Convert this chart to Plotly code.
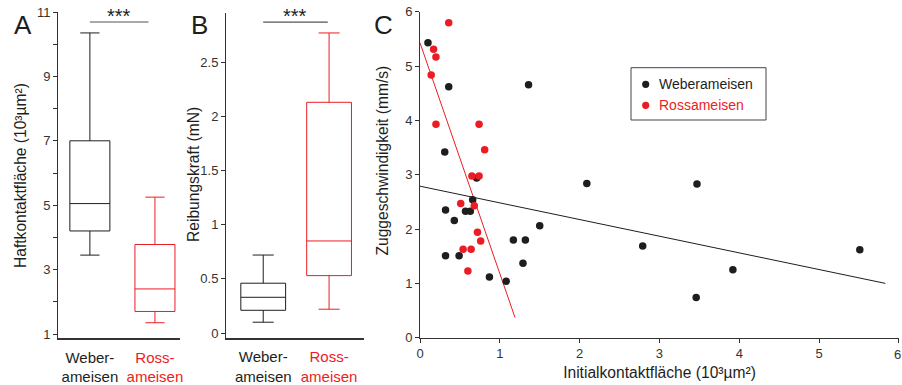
import plotly.graph_objects as go

# ---- data -------------------------------------------------------------
species = ["Weberameisen", "Rossameisen"]
species_ticklabels = ["Weber-<br>ameisen", "Ross-<br>ameisen"]

# A: adhesive contact area (10^3 µm^2), box statistics
area_low = [3.45, 1.35]
area_q1 = [4.2, 1.7]
area_median = [5.05, 2.4]
area_q3 = [7.0, 3.78]
area_high = [10.35, 5.25]

# B: friction force (mN), box statistics
force_low = [0.10, 0.22]
force_q1 = [0.21, 0.53]
force_median = [0.33, 0.85]
force_q3 = [0.46, 2.13]
force_high = [0.72, 2.77]

# C: initial contact area vs. pulling speed
weber_area = [0.10, 0.36, 1.36, 0.31, 0.71, 2.09, 0.66, 0.32, 0.57, 0.63, 0.43,
              1.50, 1.17, 1.32, 0.32, 0.49, 1.29, 0.87, 1.08, 2.79, 3.47, 5.51,
              3.92, 3.46]
weber_speed = [5.43, 4.62, 4.66, 3.42, 2.94, 2.84, 2.54, 2.35, 2.33, 2.33, 2.16,
               2.06, 1.80, 1.80, 1.51, 1.51, 1.37, 1.12, 1.04, 1.69, 2.83, 1.62,
               1.25, 0.74]
ross_area = [0.36, 0.17, 0.20, 0.14, 0.20, 0.74, 0.81, 0.65, 0.74, 0.51, 0.68,
             0.72, 0.76, 0.54, 0.64, 0.60]
ross_speed = [5.80, 5.31, 5.17, 4.84, 3.93, 3.93, 3.46, 2.98, 2.98, 2.47, 2.43,
              1.94, 1.78, 1.63, 1.63, 1.23]

# linear fits: intercept, slope, x-extent
weber_fit = (2.79, -0.307, 5.83)
ross_fit = (5.43, -4.25, 1.19)

# x ticks of panel C
area_ticks = [0, 1, 2, 3, 4, 5, 6]

significance = "***"

# ---- styling ------------------------------------------------------------
W, H = 902, 385
BLACK = "#1e1e1e"
RED = "#ec1c24"
AXIS = "#333333"
FONT = "Liberation Sans, Arial, sans-serif"


def px_x(p):
    return p / W


def px_y(p):
    return (H - p) / H


fig = go.Figure()

colors = [BLACK, RED]

# panel A boxes
for i in range(2):
    fig.add_trace(go.Box(
        x=[i], q1=[area_q1[i]], median=[area_median[i]], q3=[area_q3[i]],
        lowerfence=[area_low[i]], upperfence=[area_high[i]],
        width=0.615, whiskerwidth=0.48, boxpoints=False,
        line=dict(color=colors[i], width=1), fillcolor="rgba(0,0,0,0)",
        showlegend=False, xaxis="x", yaxis="y", hoverinfo="skip"))

# panel B boxes
for i in range(2):
    fig.add_trace(go.Box(
        x=[i], q1=[force_q1[i]], median=[force_median[i]], q3=[force_q3[i]],
        lowerfence=[force_low[i]], upperfence=[force_high[i]],
        width=0.68, whiskerwidth=0.47, boxpoints=False,
        line=dict(color=colors[i], width=1), fillcolor="rgba(0,0,0,0)",
        showlegend=False, xaxis="x2", yaxis="y2", hoverinfo="skip"))

# panel C regression lines
for (b0, b1, xe), col in [(weber_fit, BLACK), (ross_fit, RED)]:
    fig.add_trace(go.Scatter(
        x=[0, xe], y=[b0, b0 + b1 * xe], mode="lines",
        line=dict(color=col, width=1), showlegend=False,
        xaxis="x3", yaxis="y3", hoverinfo="skip"))

# panel C scatter points
fig.add_trace(go.Scatter(
    x=weber_area, y=weber_speed, mode="markers", name=species[0],
    marker=dict(color=BLACK, size=7.5), xaxis="x3", yaxis="y3",
    showlegend=False))
fig.add_trace(go.Scatter(
    x=ross_area, y=ross_speed, mode="markers", name=species[1],
    marker=dict(color=RED, size=7.5), xaxis="x3", yaxis="y3",
    showlegend=False))

tickfont = dict(family=FONT, size=13, color=AXIS)
titlefont = dict(family=FONT, size=15.6, color=BLACK)
cat_ticktext = [species_ticklabels[0],
                f'<span style="color:{RED}">{species_ticklabels[1]}</span>']

common_y = dict(showline=True, linecolor=AXIS, linewidth=1, ticks="outside",
                ticklen=4, tickcolor=AXIS, showgrid=False, zeroline=False,
                tickfont=tickfont, automargin=False)
cat_x = dict(showline=True, linecolor=AXIS, linewidth=1.5, ticks="",
             showgrid=False, zeroline=False, tickmode="array",
             tickvals=[0, 1], ticktext=cat_ticktext, automargin=False,
             ticklabelstandoff=5,
             tickfont=dict(family=FONT, size=15, color=BLACK))

# the last label of panel C touches the page edge, so it is placed separately
area_ticktext = [str(t) for t in area_ticks[:-1]] + [""]

fig.update_layout(
    width=W, height=H, margin=dict(l=0, r=0, t=0, b=0, autoexpand=False),
    paper_bgcolor="white", plot_bgcolor="white",
    font=dict(family=FONT, color=BLACK),
    showlegend=False,
    xaxis=dict(domain=[px_x(58), px_x(180)], range=[-0.49, 1.385],
               anchor="y", **cat_x),
    yaxis=dict(domain=[px_y(338), px_y(12)], range=[0.876, 11],
               anchor="x", tickvals=[1, 3, 5, 7, 9, 11],
               minor=dict(tickvals=[2, 4, 6, 8, 10], ticks="outside",
                          ticklen=4, tickcolor=AXIS),
               **common_y),
    xaxis2=dict(domain=[px_x(226), px_x(364)], range=[-0.565, 1.53],
                anchor="y2", **cat_x),
    yaxis2=dict(domain=[px_y(337.7), px_y(12.7)], range=[-0.043, 2.957],
                anchor="x2", tickvals=[0, 0.5, 1, 1.5, 2, 2.5],
                ticktext=["0", "0.5", "1", "1.5", "2", "2.5"],
                **common_y),
    xaxis3=dict(domain=[px_x(420), px_x(899)], range=[0, 6.001], anchor="y3",
                showline=True, linecolor=AXIS, linewidth=1, ticks="outside",
                ticklen=4, tickcolor=AXIS, showgrid=False, zeroline=False,
                tickvals=area_ticks, ticktext=area_ticktext, tickfont=tickfont,
                automargin=False,
                title=dict(text="Initialkontaktfläche (10³µm²)", standoff=6,
                           font=titlefont)),
    yaxis3=dict(domain=[px_y(337.7), px_y(11.9)], range=[0, 6], anchor="x3",
                tickvals=[0, 1, 2, 3, 4, 5, 6], **common_y),
)

fig.add_annotation(xref="paper", yref="paper", x=1.0, y=px_y(354),
                   text=str(area_ticks[-1]), showarrow=False, borderpad=0,
                   xanchor="right", yanchor="middle", font=tickfont)

# vertical axis titles
for text, xp, yp in [("Haftkontaktfläche (10³µm²)", 20, 176),
                     ("Reibungskraft (mN)", 193, 175),
                     ("Zuggeschwindigkeit (mm/s)", 381.5, 161)]:
    fig.add_annotation(xref="paper", yref="paper", x=px_x(xp), y=px_y(yp),
                       text=text, textangle=-90, showarrow=False,
                       xanchor="center", yanchor="middle", font=titlefont)

# legend box for panel C
fig.add_shape(type="rect", xref="paper", yref="paper",
              x0=px_x(631), x1=px_x(766), y0=px_y(120), y1=px_y(67.7),
              line=dict(color="#444444", width=1), fillcolor="white", layer="below")
for name, col, yc in [(species[0], BLACK, 84.3), (species[1], RED, 105.3)]:
    fig.add_shape(type="circle", xref="paper", yref="paper",
                  x0=px_x(645.7 - 3.6), x1=px_x(645.7 + 3.6),
                  y0=px_y(yc + 3.6), y1=px_y(yc - 3.6),
                  line=dict(width=0), fillcolor=col)
    fig.add_annotation(xref="paper", yref="paper", x=px_x(657), y=px_y(yc),
                       text=name, showarrow=False, xanchor="left", yanchor="middle",
                       font=dict(family=FONT, size=14, color=col))

# significance bars and stars
for xa, ya, x0, x1, ybar in [("x", "y", 0, 0.9, 10.69), ("x2", "y2", 0, 0.98, 2.87)]:
    fig.add_shape(type="line", xref=xa, yref=ya, x0=x0, x1=x1, y0=ybar, y1=ybar,
                  line=dict(color="#555555", width=1.2))
    fig.add_annotation(xref=xa, yref=ya, x=(x0 + x1) / 2, y=ybar, text=significance,
                       showarrow=False, yanchor="bottom", yshift=-7,
                       font=dict(family=FONT, size=20, color=BLACK))

# panel letters
for letter, xp in [("A", 12), ("B", 189), ("C", 372)]:
    fig.add_annotation(xref="paper", yref="paper", x=px_x(xp), y=px_y(8),
                       text=letter, showarrow=False, xanchor="left", yanchor="top",
                       font=dict(family=FONT, size=26, color=BLACK))

fig.write_html("out.html")
